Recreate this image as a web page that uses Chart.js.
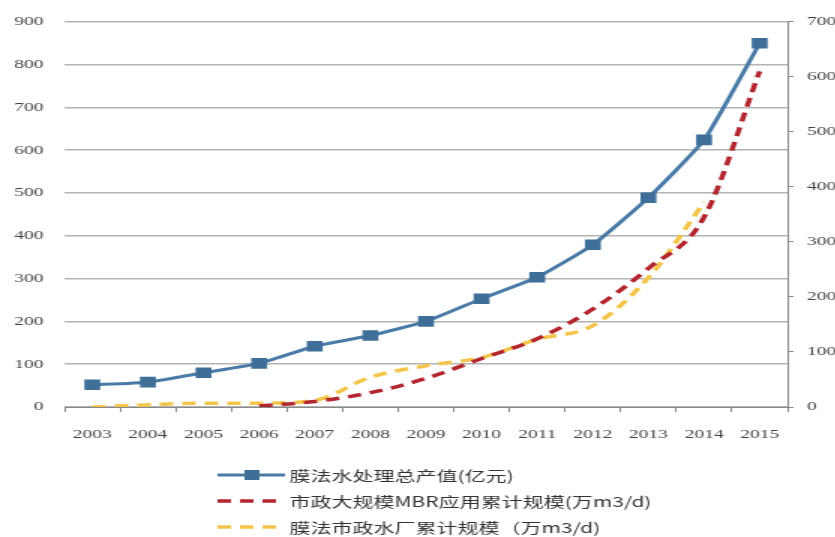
<!DOCTYPE html>
<html>
<head>
<meta charset="utf-8">
<script src="https://cdn.jsdelivr.net/npm/chart.js@4.4.0/dist/chart.umd.min.js"></script>
<style>
html, body { margin: 0; padding: 0; background: #fff; overflow: hidden; }
/* the source picture is stretched sideways, so draw narrow and stretch */
#wrap { width: 557px; height: 537px; transform: scaleX(1.5); transform-origin: 0 0; }
</style>
</head>
<body>
<div id="wrap"><canvas id="lineChart" width="557" height="537"></canvas></div>
<script>
var years = ["2003", "2004", "2005", "2006", "2007", "2008", "2009", "2010", "2011", "2012", "2013", "2014", "2015"];
// 膜法水处理总产值 (left axis)
var outputValue = [52, 58, 80, 102, 142, 167, 200, 253, 303, 379, 489, 624, 850];
// 市政大规模MBR应用累计规模 (right axis)
var mbrScale = [null, null, null, 2, 10, 26, 52, 88, 124, 178, 252, 345, 610];
// 膜法市政水厂累计规模 (right axis)
var plantScale = [0, 4, 7, 7, 12, 54, 75, 90, 123, 148, 235, 372, null];
var leftTicks = { min: 0, max: 900, step: 100 };
var rightTicks = { min: 0, max: 700, step: 100 };
var seriesNames = ["膜法水处理总产值(亿元)", "市政大规模MBR应用累计规模(万m3/d)", "膜法市政水厂累计规模（万m3/d)"];

var tickFont = { family: "'Liberation Serif', serif", size: 13 };
var tickColor = "#444";

// legend drawn under the plot, one row per series
var stackedLegend = {
  id: 'stackedLegend',
  afterDraw: function (chart) {
    var ctx = chart.ctx;
    var rows = [475, 501, 527];
    chart.data.datasets.forEach(function (ds, i) {
      var y = rows[i];
      ctx.save();
      ctx.strokeStyle = ds.borderColor;
      ctx.lineWidth = ds.borderWidth;
      ctx.setLineDash(ds.borderDash || []);
      ctx.beginPath();
      ctx.moveTo(145, y);
      ctx.lineTo(190, y);
      ctx.stroke();
      ctx.setLineDash([]);
      if (ds.pointRadius) {
        ctx.fillStyle = ds.pointBackgroundColor;
        ctx.fillRect(163, y - 5, 10, 10);
      }
      ctx.fillStyle = "#333";
      ctx.font = "14px 'Noto Sans CJK SC'";
      ctx.textBaseline = "middle";
      ctx.fillText(ds.label, 193, y + 1);
      ctx.restore();
    });
  }
};

var lineCanvas = document.getElementById("lineChart");
var lineChart = new Chart(lineCanvas, {
  type: 'line',
  data: {
    labels: years,
    datasets: [{
      label: seriesNames[0],
      data: outputValue,
      yAxisID: 'y',
      borderColor: '#4a7aa8',
      borderWidth: 3,
      pointStyle: 'rect',
      pointRadius: 7.5,
      pointBackgroundColor: '#3f6f98',
      pointBorderColor: '#3f6f98',
      pointBorderWidth: 0,
      tension: 0.15,
      fill: false
    }, {
      label: seriesNames[1],
      data: mbrScale,
      yAxisID: 'y1',
      borderColor: '#b3262d',
      borderWidth: 3.5,
      borderDash: [9, 6],
      pointRadius: 0,
      cubicInterpolationMode: 'monotone',
      fill: false
    }, {
      label: seriesNames[2],
      data: plantScale,
      yAxisID: 'y1',
      borderColor: '#f4c54a',
      borderWidth: 3.5,
      borderDash: [9, 6],
      pointRadius: 0,
      cubicInterpolationMode: 'monotone',
      fill: false
    }]
  },
  options: {
    responsive: false,
    devicePixelRatio: 1,
    animation: false,
    layout: { padding: { top: 19, bottom: 90, left: 0, right: 0 } },
    plugins: { legend: { display: false }, tooltip: { enabled: false } },
    scales: {
      x: {
        offset: true,
        grid: { offset: true, drawOnChartArea: false, drawTicks: true, tickLength: 5, color: '#888', lineWidth: 1 },
        border: { display: true, color: '#888', width: 1 },
        ticks: { font: tickFont, color: tickColor, padding: 15, maxRotation: 0, autoSkip: false },
        afterFit: function (s) { s.height = 40; }
      },
      y: {
        position: 'left',
        min: leftTicks.min,
        max: leftTicks.max,
        ticks: { stepSize: leftTicks.step, font: tickFont, color: tickColor, padding: 14 },
        grid: { color: '#b4b4b4', lineWidth: 1.5, drawTicks: false },
        border: { display: false },
        afterFit: function (s) { s.width = 43; }
      },
      y1: {
        position: 'right',
        min: rightTicks.min,
        max: rightTicks.max,
        ticks: { stepSize: rightTicks.step, font: tickFont, color: tickColor, padding: 9 },
        grid: { drawOnChartArea: false, drawTicks: true, tickLength: 4, color: '#888' },
        border: { display: true, color: '#888', width: 1 },
        afterFit: function (s) { s.width = 32; }
      }
    }
  },
  plugins: [stackedLegend]
});
</script>
</body>
</html>
